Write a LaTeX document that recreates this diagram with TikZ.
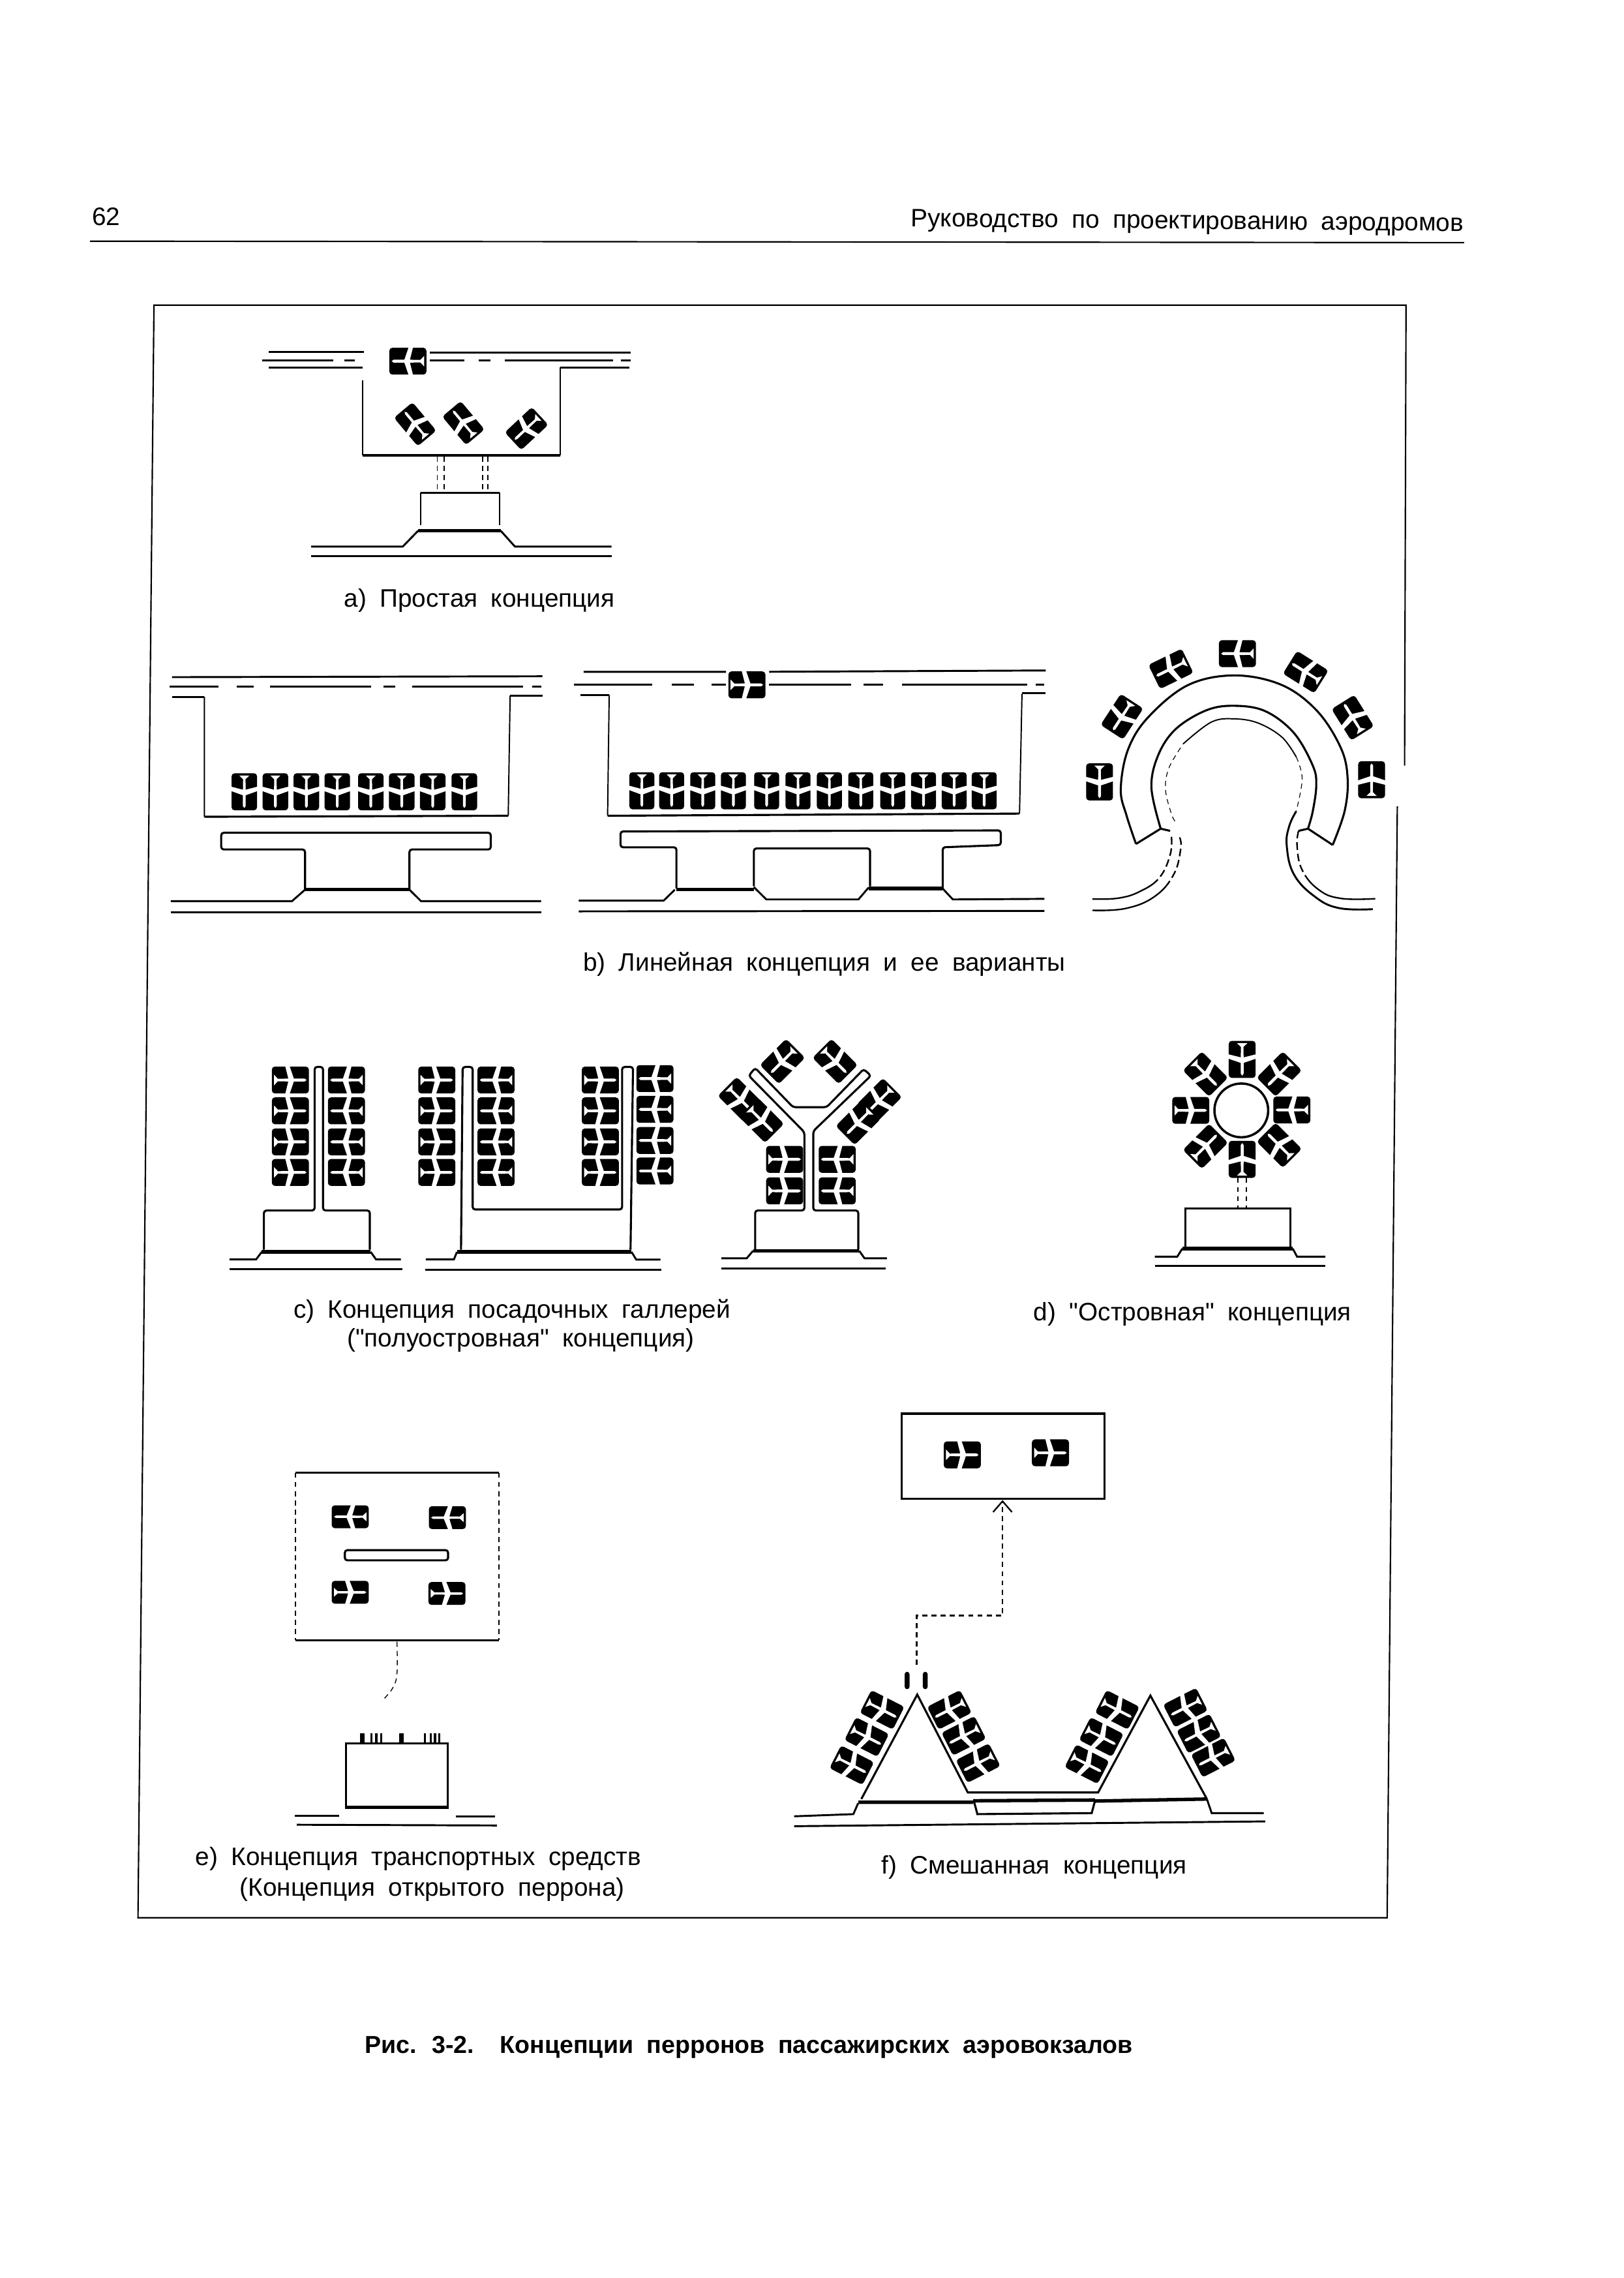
\documentclass[tikz,border=0pt]{standalone}
\usepackage{fontspec}
\newfontfamily\labelfont{Liberation Sans}
\setmainfont{Liberation Sans}
\usetikzlibrary{arrows.meta}
\newcommand\lblgap{\spaceskip=5.2pt\relax}
\tikzset{
  stand/.pic={
    \fill[black, rounded corners=1.2pt] (-12.75,-9.25) rectangle (12.75,9.25);
    \fill[white] (-11.2,0) -- (-9.8,-1) -- (-2.4,-1) -- (.6,-9.8) -- (3.6,-9.8) -- (1.4,-1) -- (8.6,-.85) -- (11.2,-3.6)
      -- (11.2,3.6) -- (8.6,.85) -- (1.4,1) -- (3.6,9.8) -- (.6,9.8) -- (-2.4,1) -- (-9.8,1) -- cycle;
  }
}
\begin{document}
\begin{tikzpicture}[
  x=.2mm, y=-.2mm,
  every node/.style={align=center, inner sep=0pt, text=black},
  lbl/.style={font=\labelfont\fontsize{9.9}{11}\selectfont\lblgap},
  border/.style={line width=.55pt},
  taxi/.style={line width=.75pt},
  apron/.style={line width=.5pt},
  wall/.style={line width=.8pt},
  heavy/.style={line width=1.35pt},
  link/.style={line width=.55pt, dash pattern=on 2pt off 1.6pt},
  lane/.style={line width=.6pt, dash pattern=on 3pt off 1.5pt on 3pt off 1.5pt on 3pt off 1.5pt on 3pt off 1.5pt on 80pt off 1pt}
]
  \useasboundingbox (0,0) rectangle (1118,1568);

  \node[lbl, anchor=west] (pageno) at (63,149) {62};
  \node[lbl, anchor=east, rotate=-.5] (running) at (1008,155) {Руководство по проектированию аэродромов};
  \draw[border] (62,166) -- (1008,167);

  \draw[border] (967,527) -- (968,210) -- (106,210) -- (95,1320) -- (955,1320) -- (962,555);

  % a
  \draw[taxi] (185,242.3) -- (250.6,242.3) (295.9,242.6) -- (434.4,242.6);
  \foreach \a/\b in {180.5/229.3, 237.3/244.4, 295.9/319.9, 329.7/337.6, 347.4/422, 427.3/434.4} {
    \draw[taxi] (\a,248.1) -- (\b,248.1);
  }
  \draw[taxi] (185,253) -- (249.7,253) (385.6,253) -- (433.5,253);
  \draw[apron] (249.7,262) -- (249.7,313.4) (385.6,253) -- (385.6,313.4);
  \draw[wall] (249.7,313.4) -- (385.6,313.4);
  \pic at (280.8,248.6) {stand};
  \pic[rotate=-50, yscale=.9] at (285.8,292) {stand};
  \pic[rotate=-50, yscale=.9] at (319,291.2) {stand};
  \pic[rotate=43, yscale=.9] at (362.5,295) {stand};
  \foreach \a in {301.2, 305.7, 332.3, 335.9} {
    \draw[link, line width=.35pt] (\a,314.4) -- (\a,338);
  }
  \draw[apron] (289.7,361.6) -- (289.7,339.1) (343.9,339.1) -- (343.9,361.6);
  \draw[wall] (289.7,339.1) -- (343.9,339.1);
  \draw[taxi] (214.2,376.2) -- (277.3,376.2) -- (287.9,365.3);
  \draw[heavy] (287.9,365.3) -- (344.7,365.3);
  \draw[taxi] (344.7,365.3) -- (354.5,376.2) -- (421,376.2);
  \draw[taxi] (214.2,382.8) -- (421,382.8);
  \node[lbl] (capa) at (330,413.5) {a) Простая концепция};

  % b left
  \draw[taxi] (118.5,466.1) -- (373.4,465.5);
  \foreach \a/\b in {116.7/150.5, 162.9/174.5, 186/255.3, 264.2/272.2, 283.7/360, 366.3/372.5} {
    \draw[taxi] (\a,472.4) -- (\b,472.4);
  }
  \draw[taxi] (118.5,479.6) -- (140.7,479.6) (351.2,478.8) -- (373.4,478.8);
  \draw[apron] (140.7,479.6) -- (140.7,562.2) (351.2,478.8) -- (349.9,561.5);
  \draw[wall] (140.7,562.2) -- (349.9,561.5);
  \foreach \sx in {168.2, 189.6, 210.9, 232.2, 255.3, 276.6, 297.9, 319.7} {
    \pic[rotate=90, yscale=.95] at (\sx,545) {stand};
  }
  \draw[wall, rounded corners=1pt] (210,612.4) -- (210,584.7) -- (152.3,584.7) -- (152.3,573.2) -- (337.9,573.2) -- (337.9,584.7) -- (281.9,584.7) -- (281.9,612.4);
  \draw[heavy] (210,612.4) -- (281.9,612.4);
  \draw[taxi] (117.6,620.3) -- (201,620.3) -- (210,612.4) (281.9,612.4) -- (289.9,620.3) -- (372.5,620.3);
  \draw[taxi] (117.6,628.1) -- (372.5,628.1);

  % b middle
  \draw[taxi] (401.8,462.4) -- (499.8,462.4) (529.6,462.4) -- (720,461.5);
  \foreach \a/\b in {395.2/449.2, 462.4/477.8, 490/499.8, 529.6/585.8, 594.6/607.8, 621/707, 713/719} {
    \draw[taxi] (\a,471.4) -- (\b,471.4);
  }
  \draw[taxi] (399.6,478.4) -- (419.4,478.4) (703.6,477.2) -- (720,477.2);
  \draw[apron] (419.4,478.4) -- (418.3,561.5) (703.6,477.6) -- (701.9,560);
  \draw[wall] (418.3,561.5) -- (701.9,560);
  \pic[rotate=180] at (514.2,471.4) {stand};
  \foreach \sx in {441.9, 462.4, 483.8, 504.9, 527.8, 549.4, 571, 592.6, 614.6, 635.8, 656.9, 677.6} {
    \pic[rotate=90, yscale=.93] at (\sx,544.3) {stand};
  }
  \draw[wall, rounded corners=1pt] (465.7,611.6) -- (465.7,583.2) -- (427.2,583.2) -- (427.2,572.3) -- (689,571.6) -- (689,581.7) -- (649,583.2) -- (649,611.6);
  \draw[wall, rounded corners=1pt] (519,610.1) -- (519,584) -- (599,584) -- (599,610.1);
  \draw[heavy] (465.7,612.4) -- (519,612.4) (598,611.6) -- (649,611.6);
  \draw[taxi] (398.5,619.9) -- (456.9,619.9) -- (464.6,612.4) (519,610.6) -- (527.6,619.1) -- (591,619.1) -- (598,610.9) (649,611.6) -- (656,619.1) -- (719,618.7);
  \draw[taxi] (398.5,627.3) -- (719,627);

  % b right
  \foreach \sx/\sy/\ang in {851.9/449.9/0, 806.1/460.4/26, 772.4/493.3/57, 757/538.2/90, 898.9/462.6/-32, 931.3/494/-58, 944.3/536.7/-90} {
    \pic[rotate=\ang] at (\sx,\sy) {stand};
  }
  \draw[wall] plot[smooth, tension=.6] coordinates {(782.1,580.9) (775.6,561.4) (771.6,543.5) (776.4,516.5) (790.2,494) (817.8,471.6) (850.2,464.9) (882.7,471.6) (907,489.6) (923.2,515) (927.8,536) (925.7,558.4) (917.5,581.6)};
  \draw[wall] plot[smooth, tension=.6] coordinates {(799.1,570.4) (792.7,542) (797.5,519.5) (809.7,501.6) (830.8,488.8) (850.2,485.8) (871.3,489.6) (890.8,504.5) (903.8,527) (906.2,540.5) (903.8,558.4) (900.5,570.4)};
  \draw[wall] (782.1,580.9) -- (799.1,570.4) -- (805.6,571.9) (917.5,581.6) -- (900.5,570.4) -- (894,571.9);
  \draw[apron] plot[smooth, tension=.6] coordinates {(814.6,512) (834,497) (850.2,494.8) (866.5,497.8) (882.7,507.5) (892.4,521)};
  \draw[link, line width=.3pt] plot[smooth, tension=.6] coordinates {(808.9,565.2) (806.4,560) (802.4,543.5) (804.8,528.5) (814.6,512)};
  \draw[link, line width=.3pt] plot[smooth, tension=.6] coordinates {(892.4,521) (896.5,536) (892.4,558.4)};
  \draw[lane] plot[smooth, tension=.7] coordinates {(806.5,576) (805.6,588.4) (798.3,604) (785,613.5) (770,618.2) (752.1,618.8)};
  \draw[lane] plot[smooth, tension=.7] coordinates {(812.1,576.4) (812.9,584) (808.1,601.8) (795,617) (775,625.3) (752.1,626.6)};
  \draw[taxi] plot[smooth, tension=.7] coordinates {(892.4,558.4) (887.5,568.9) (885.9,582.4) (890.8,601.8) (905,617) (921.6,625) (945.1,625.8)};
  \draw[lane] plot[smooth, tension=.7] coordinates {(894,571.9) (893,582.4) (896.5,598.9) (908,612.5) (923.2,618.4) (946.8,618.6)};
  \node[lbl] (capb) at (567.5,663.5) {b) Линейная концепция и ее варианты};

  % c
  \foreach \sy in {743.4, 764.6, 786, 807} {
    \pic[rotate=180] at (199.9,\sy) {stand};
    \pic at (238.5,\sy) {stand};
    \pic[rotate=180] at (300.7,\sy) {stand};
    \pic at (341.5,\sy) {stand};
    \pic[rotate=180] at (413.3,\sy) {stand};
    \pic at (450.9,\sy-1) {stand};
  }
  \draw[wall, rounded corners=1pt] (181.7,860.2) |- (216.6,833.2) -- (216.6,734.4) -- (222.4,734.4) -- (222.4,833.2) -| (254.6,860.2);
  \draw[heavy] (180.2,861.7) -- (255.2,861.7);
  \draw[taxi] (158,866.9) -- (176.3,866.9) -- (180.2,861.7) (255.2,861.7) -- (258.9,866.9) -- (276,866.9);
  \draw[taxi] (158,873.6) -- (277.1,873.6);
  \draw[wall, rounded corners=1pt] (317.4,860.2) -- (318.5,734.4) -- (325.4,734.4) -- (325.4,832.5) -- (428.3,832.5) -- (428.3,734.4) -- (435.8,734.4) -- (434.1,860.2);
  \draw[heavy] (314.6,861.7) -- (434.8,861.7);
  \draw[taxi] (293.2,866.9) -- (312.5,866.9) -- (314.6,861.7) (434.8,861.7) -- (438,867) -- (454.7,867);
  \draw[taxi] (292.6,873.9) -- (455.2,873.9);
  \foreach \sx/\sy/\ang in {540.2/798/180, 576.4/798/0, 540.2/819.7/180, 576.4/819.7/0, 538.7/730.6/45, 509.7/756.8/135, 524.2/771.1/135, 574.9/730.6/135, 605.4/757.6/45, 590.9/772.6/45} {
    \pic[rotate=\ang] at (\sx,\sy) {stand};
  }
  \draw[wall, rounded corners=1pt] (519.9,860) |- (553.8,833.2) -- (553.8,779.3) -- (515.5,740.4) -- (519.9,735.1) -- (546,762.1) -- (569.1,762.1) -- (594.6,735.9) -- (599.6,740.4) -- (559.9,778.6) -- (559.9,833.2) -| (590.9,860);
  \draw[heavy] (518.5,860.9) -- (591.5,860.9);
  \draw[taxi] (496.7,866.1) -- (514.1,866.1) -- (518.5,860.9) (591.5,860.9) -- (595.2,866.1) -- (610.6,866.1);
  \draw[taxi] (496.7,873.2) -- (609.7,873.2);
  \node[lbl] (capc) at (352.5,902.5) {c) Концепция посадочных галлерей};
  \node[lbl] (capcb) at (358.5,922.5) {("полуостровная" концепция)};

  % d
  \draw[wall, line width=.9pt] (854.6,764.3) circle (18.5);
  \foreach \sx/\sy/\ang in {855.2/729.2/90, 819.8/764.3/180, 889.4/764/0, 829.9/739.3/135, 880.7/739.3/45, 829.9/789/-135, 880.7/788.3/-45, 855.2/798/-90} {
    \pic[rotate=\ang] at (\sx,\sy) {stand};
  }
  \coordinate (dstanda) at (852.3,810.7);
  \coordinate (dtermina) at (852.3,831);
  \coordinate (dstandb) at (858.1,810.7);
  \coordinate (dterminb) at (858.1,831);
  \draw[link] (dstanda) -- (dtermina);
  \draw[link] (dstandb) -- (dterminb);
  \draw[wall] (816,858.5) |- (888.5,831.7) -- (888.5,858.5);
  \draw[heavy] (814,859.4) -- (890,859.4);
  \draw[taxi] (795,865) -- (810.5,865) -- (814,859.4) (890,859.4) -- (893,865) -- (912.5,865);
  \draw[taxi] (795,871.4) -- (912.5,871.4);
  \node[lbl] (capd) at (821,904.5) {d) "Островная" концепция};

  % e
  \draw[wall] (203.4,1013.7) -- (343.6,1013.7);
  \draw[wall] (203.4,1129) -- (343.6,1129);
  \draw[link, line width=.4pt] (203.4,1013.7) -- (203.4,1129);
  \draw[link, line width=.4pt] (343.6,1013.7) -- (343.6,1129);
  \pic[yscale=.85] at (241.1,1044) {stand};
  \pic[yscale=.85] at (308,1044.6) {stand};
  \pic[rotate=180, yscale=.85] at (241.1,1096) {stand};
  \pic[rotate=180, yscale=.85] at (307.7,1096.8) {stand};
  \draw[wall, rounded corners=1pt] (237.4,1067) rectangle (308.5,1074);
  \draw[link, line width=.35pt] plot[smooth, tension=.6] coordinates {(273.3,1130) (273.3,1152) (270.3,1162) (262.8,1171)};
  \foreach \tx/\tw in {249.3/3, 255.8/1.6, 259/1.6, 262.4/1.6, 276.3/3, 292.7/1.4, 296.5/1.4, 299.5/1.4, 302.5/1.4} {
    \fill[black] (\tx-\tw/2,1193) rectangle (\tx+\tw/2,1200);
  }
  \draw[wall] (238.1,1243) |- (308.2,1200) -- (308.2,1243);
  \draw[heavy] (237.5,1244) -- (309,1244);
  \draw[taxi] (202.9,1250) -- (233.6,1250) (313.7,1250.5) -- (340.6,1250.5);
  \draw[taxi] (204.4,1256) -- (342.1,1256.5);
  \node[lbl] (cape) at (288,1279.5) {e) Концепция транспортных средств};
  \node[lbl] (capeb) at (297.5,1300.5) {(Концепция открытого перрона)};

  % f
  \draw[wall] (620.6,973) rectangle (760.3,1031.7);
  \pic[rotate=180] at (662.5,1001.4) {stand};
  \pic[rotate=180] at (723.2,1000) {stand};
  \coordinate (fgate) at (631,1146);
  \coordinate (fturn) at (690.2,1112);
  \coordinate (fhall) at (690.2,1032.5);
  \draw[link, line width=.7pt, -{Straight Barb[length=7.5*.2mm, width=13*.2mm, line width=.6pt]}] (fgate) |- (fturn) -- (fhall);
  \fill[black, rounded corners=1pt] (622.8,1150.7) rectangle (626.2,1162.7) (635.3,1150.7) rectangle (638.7,1162.7);
  \foreach \sx/\sy/\ang in {607.3/1176.9/153, 596.7/1195.6/153, 586.4/1215/153, 653.6/1176.9/27, 663.5/1194.8/27, 673.4/1213.6/27, 769.2/1176.9/153, 758.2/1195.6/153, 748.3/1214.3/153, 816.1/1175.4/27, 825.4/1193.3/27, 835.3/1209.8/27} {
    \pic[rotate=\ang, yscale=.95] at (\sx,\sy) {stand};
  }
  \draw[wall] (593,1238.3) -- (631.5,1166.4) -- (666.3,1233.8) -- (756,1233.8) -- (792,1167.1) -- (830.9,1238.3);
  \draw[heavy] (591,1240.5) -- (670,1240.5) (670,1239.5) -- (753.8,1239) (753.8,1239.7) -- (830.9,1238.3);
  \draw[wall] (670.7,1240.5) -- (672.9,1248.7) -- (751.6,1248) -- (753.8,1239.7);
  \draw[taxi] (546.7,1250.2) -- (587.5,1248.7) -- (590.8,1241.2) (830.9,1238.3) -- (834.2,1248) -- (870,1248);
  \draw[taxi] (546.7,1257) -- (871,1253.7);
  \node[lbl] (capf) at (712,1285.5) {f) Смешанная концепция};

  \node[lbl, font=\labelfont\fontsize{9.6}{11}\selectfont\bfseries\lblgap] (caption) at (515.5,1409) {Рис. 3-2.\hspace{4pt} Концепции перронов пассажирских аэровокзалов};
\end{tikzpicture}
\end{document}
